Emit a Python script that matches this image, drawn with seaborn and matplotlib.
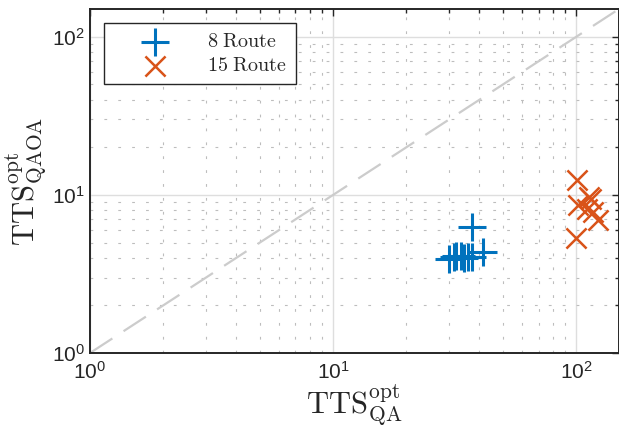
import numpy as np
import pandas as pd
import matplotlib
matplotlib.use("Agg")
import matplotlib.pyplot as plt
import seaborn as sns
from matplotlib.ticker import LogLocator, NullFormatter, FuncFormatter

# ---- data ----
route8_qa = [30.1, 31.5, 32.1, 33.6, 34.6, 36.0, 37.3, 37.3, 41.5]
route8_qaoa = [3.96, 4.05, 4.10, 4.12, 4.00, 4.02, 6.27, 4.05, 4.34]
route15_qa = [100.7, 100.2, 102.0, 113.0, 115.6, 111.0, 122.4, 117.8]
route15_qaoa = [12.5, 5.34, 8.59, 9.69, 9.43, 8.18, 6.90, 7.79]
labels = ["8 Route", "15 Route"]
diag = [1, 150]

df = pd.DataFrame({
    "qa": route8_qa + route15_qa,
    "qaoa": route8_qaoa + route15_qaoa,
    "grp": [labels[0]] * len(route8_qa) + [labels[1]] * len(route15_qa),
})

sns.set_style("white")
plt.rcParams["font.family"] = ["Liberation Sans", "DejaVu Sans"]
plt.rcParams["mathtext.fontset"] = "custom"
plt.rcParams["mathtext.rm"] = "cmr10"
plt.rcParams["mathtext.it"] = "cmr10"
plt.rcParams["mathtext.sf"] = "Liberation Sans"

blue = "#0072BD"
orange = "#D95319"

fig = plt.figure(figsize=(6.19, 4.29), dpi=100)
ax = fig.add_axes([90 / 619, (429 - 353) / 429, 529 / 619, 344 / 429])
ax.set_xscale("log")
ax.set_yscale("log")
ax.set_xlim(1, 150)
ax.set_ylim(1, 150)

# grid
ax.set_axisbelow(True)
ax.grid(which="major", color="#dedede", linewidth=1.0, linestyle="-")
ax.grid(which="minor", color="#bdbdbd", linewidth=0.8, linestyle=(0, (2.5, 10)))

# diagonal
sns.lineplot(x=diag, y=diag, ax=ax, color="#cccccc", linewidth=1.6,
             dashes=False, linestyle=(0, (12, 6)), zorder=1)

sub8 = df[df.grp == labels[0]]
sub15 = df[df.grp == labels[1]]
sns.scatterplot(data=sub8, x="qa", y="qaoa", ax=ax, marker="+", s=400,
                color=blue, linewidth=2.2, label=r"$\mathrm{8\ Route}$", zorder=3)
sns.scatterplot(data=sub15, x="qa", y="qaoa", ax=ax, marker="x", s=210,
                color=orange, linewidth=1.8, label=r"$\mathrm{15\ Route}$", zorder=3)

ax.xaxis.set_major_locator(LogLocator(base=10, numticks=10))
ax.yaxis.set_major_locator(LogLocator(base=10, numticks=10))
ax.xaxis.set_minor_locator(LogLocator(base=10, subs=np.arange(2, 10), numticks=20))
ax.yaxis.set_minor_locator(LogLocator(base=10, subs=np.arange(2, 10), numticks=20))
ax.xaxis.set_minor_formatter(NullFormatter())
ax.yaxis.set_minor_formatter(NullFormatter())
fmt = FuncFormatter(lambda v, p: r"$\mathsf{10^{%d}}$" % int(round(np.log10(v))))
ax.xaxis.set_major_formatter(fmt)
ax.yaxis.set_major_formatter(fmt)

ax.tick_params(which="both", direction="in", top=True, right=True,
               color="#262626", labelsize=15, labelcolor="#262626")
ax.tick_params(which="major", length=5, width=1.0)
ax.tick_params(which="minor", length=3, width=1.0)
ax.tick_params(axis="x", pad=6)
for s in ax.spines.values():
    s.set_color("#262626")
    s.set_linewidth(1.4)

ax.set_xlabel(r"$\mathrm{TTS}_{\mathrm{QA}}^{\mathrm{opt}}$", fontsize=22, labelpad=0)
ax.set_ylabel(r"$\mathrm{TTS}_{\mathrm{QAOA}}^{\mathrm{opt}}$", fontsize=22, labelpad=2)

leg = ax.legend(loc="upper left", bbox_to_anchor=(0.027, 0.96), frameon=True,
                fancybox=False, fontsize=14.5, handlelength=4.1, handletextpad=0.55,
                borderpad=0.45, labelspacing=0.25, borderaxespad=0)
leg.get_frame().set_edgecolor("#262626")
leg.get_frame().set_linewidth(1.0)
leg.get_frame().set_alpha(1)

fig.savefig("out.png", dpi=100)
